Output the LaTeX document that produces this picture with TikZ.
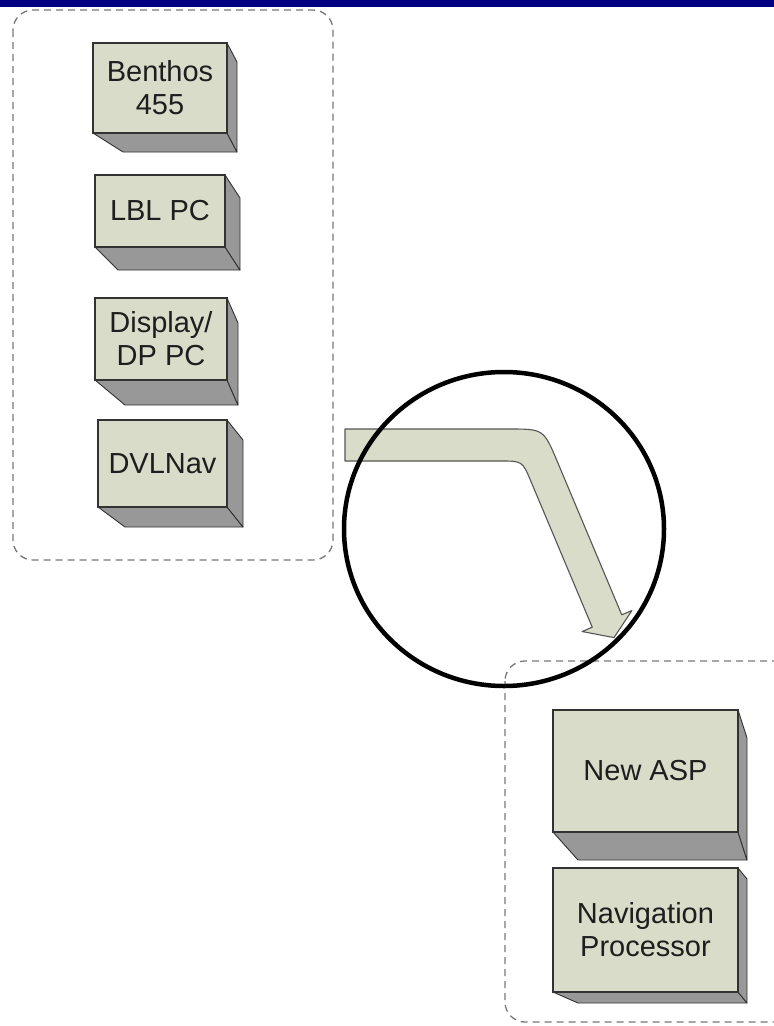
\documentclass[tikz,border=0pt]{standalone}
\usepackage{fontspec}
\setmainfont{Liberation Sans}
\usetikzlibrary{calc}
\definecolor{barblue}{RGB}{0,0,128}
\definecolor{facecol}{RGB}{218,220,202}
\definecolor{sidecol}{RGB}{152,152,152}
\definecolor{edgecol}{RGB}{50,50,50}
\definecolor{dashcol}{RGB}{120,120,120}
\definecolor{arrowedge}{RGB}{85,85,85}
\definecolor{txtcol}{RGB}{30,30,30}
\tikzset{
  face/.style={draw=edgecol, fill=facecol, line width=1.1pt, inner sep=0pt,
     align=center, text=txtcol, font=\fontsize{29}{33}\selectfont},
  depth/.style={fill=sidecol, draw=edgecol, line width=0.9pt, line join=round},
  groupbox/.style={draw=dashcol, line width=1.3pt, dash pattern=on 7pt off 5pt, rounded corners=20pt},
  bigarrow/.style={fill=facecol, draw=arrowedge, line width=1.1pt, line join=round},
  lens/.style={draw=black, line width=4.5pt}
}
% #1 name, #2 x1, #3 y1, #4 x2, #5 y2, #6 dx, #7 dy, #8 dx at lower left, #9 text
\newcommand\threedbox[9]{%
  \draw[depth] (#2,#5) -- (#4,#5) -- ({#4+#6},{#5+#7}) -- ({#2+#8},{#5+#7}) -- cycle;
  \draw[depth] (#4,#3) -- ({#4+#6},{#3+#7}) -- ({#4+#6},{#5+#7}) -- (#4,#5) -- cycle;
  \node[face, minimum width={(#4-#2)*1pt}, minimum height={(#5-#3)*1pt}]
     (#1) at ({(#2+#4)/2},{(#3+#5)/2}) {#9};
}
\begin{document}
\begin{tikzpicture}[x=1pt,y=-1pt]
\useasboundingbox (0,0) rectangle (774,1026);
\clip (0,0) rectangle (774,1026);
\fill[white] (0,0) rectangle (774,1026);
\fill[barblue] (0,0) rectangle (774,7);
% groups
\draw[groupbox] (13,10) rectangle (333,560);
\draw[groupbox] (505,661) rectangle (820,1022);
% left boxes
\threedbox{benthos}{93}{43}{227}{133}{10}{19}{30}{Benthos\\455}
\threedbox{lbl}{95}{175}{225}{247}{15}{23}{23}{LBL PC}
\threedbox{display}{95}{298}{227}{380}{11}{25}{30}{Display/\\DP PC}
\threedbox{dvlnav}{98}{420}{227}{507}{16}{20}{27}{DVLNav}
% right boxes
\threedbox{asp}{553}{710}{738}{832}{9}{28}{25}{New ASP}
\threedbox{navproc}{553}{868}{738}{992}{9}{11}{25}{Navigation\\Processor}
% big bent arrow
\coordinate (arrstart) at (345,445);
\coordinate (arrtip) at (614,637.6);
\draw[bigarrow] ($(arrstart)+(0,-16)$) -- (508.6,429) .. controls (543.6,429) .. (557.2,461.3)
  -- (621.75,614.8) -- (631.9,610.5) -- (arrtip) -- (582.1,631.5) -- (592.25,627.2)
  -- (530.9,481.3) .. controls (522.4,461) .. (500.4,461) -- ($(arrstart)+(0,16)$) -- cycle;
% lens circle
\draw[lens] (504,529) ellipse [x radius=160, y radius=157];
\end{tikzpicture}
\end{document}
